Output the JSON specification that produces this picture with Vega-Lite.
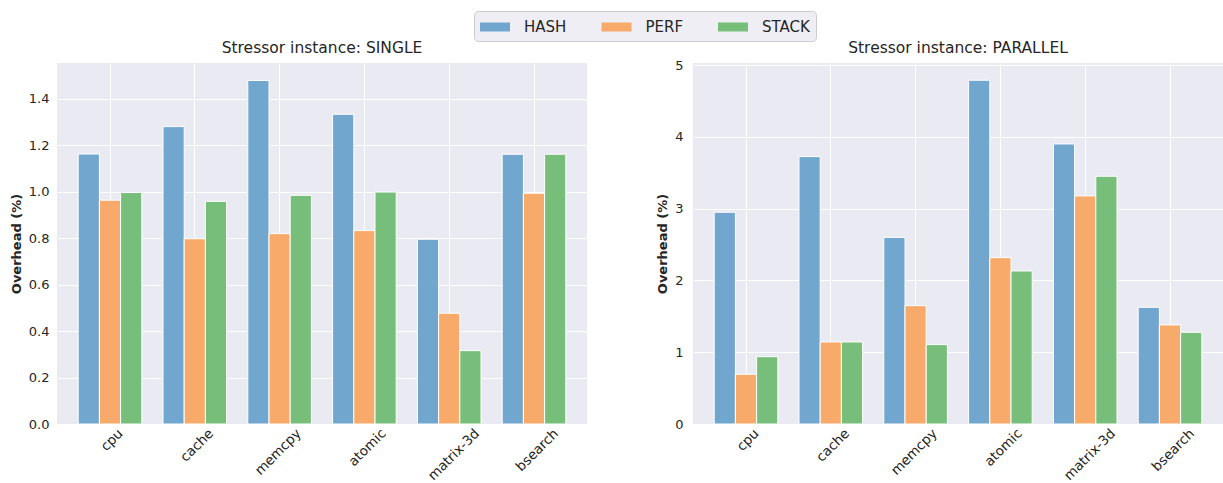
{
  "$schema": "https://vega.github.io/schema/vega-lite/v6.json",
  "background": "white",
  "padding": {"left": 10, "top": 10, "right": 0, "bottom": 0},
  "datasets": {
    "overhead": [
      {"mode": "SINGLE", "stressor": "cpu", "tool": "HASH", "overhead": 1.163},
      {"mode": "SINGLE", "stressor": "cpu", "tool": "PERF", "overhead": 0.964},
      {"mode": "SINGLE", "stressor": "cpu", "tool": "STACK", "overhead": 0.997},
      {"mode": "SINGLE", "stressor": "cache", "tool": "HASH", "overhead": 1.281},
      {"mode": "SINGLE", "stressor": "cache", "tool": "PERF", "overhead": 0.798},
      {"mode": "SINGLE", "stressor": "cache", "tool": "STACK", "overhead": 0.959},
      {"mode": "SINGLE", "stressor": "memcpy", "tool": "HASH", "overhead": 1.480},
      {"mode": "SINGLE", "stressor": "memcpy", "tool": "PERF", "overhead": 0.820},
      {"mode": "SINGLE", "stressor": "memcpy", "tool": "STACK", "overhead": 0.985},
      {"mode": "SINGLE", "stressor": "atomic", "tool": "HASH", "overhead": 1.334},
      {"mode": "SINGLE", "stressor": "atomic", "tool": "PERF", "overhead": 0.833},
      {"mode": "SINGLE", "stressor": "atomic", "tool": "STACK", "overhead": 0.999},
      {"mode": "SINGLE", "stressor": "matrix-3d", "tool": "HASH", "overhead": 0.796},
      {"mode": "SINGLE", "stressor": "matrix-3d", "tool": "PERF", "overhead": 0.477},
      {"mode": "SINGLE", "stressor": "matrix-3d", "tool": "STACK", "overhead": 0.316},
      {"mode": "SINGLE", "stressor": "bsearch", "tool": "HASH", "overhead": 1.162},
      {"mode": "SINGLE", "stressor": "bsearch", "tool": "PERF", "overhead": 0.994},
      {"mode": "SINGLE", "stressor": "bsearch", "tool": "STACK", "overhead": 1.162},
      {"mode": "PARALLEL", "stressor": "cpu", "tool": "HASH", "overhead": 2.95},
      {"mode": "PARALLEL", "stressor": "cpu", "tool": "PERF", "overhead": 0.692},
      {"mode": "PARALLEL", "stressor": "cpu", "tool": "STACK", "overhead": 0.938},
      {"mode": "PARALLEL", "stressor": "cache", "tool": "HASH", "overhead": 3.726},
      {"mode": "PARALLEL", "stressor": "cache", "tool": "PERF", "overhead": 1.143},
      {"mode": "PARALLEL", "stressor": "cache", "tool": "STACK", "overhead": 1.143},
      {"mode": "PARALLEL", "stressor": "memcpy", "tool": "HASH", "overhead": 2.60},
      {"mode": "PARALLEL", "stressor": "memcpy", "tool": "PERF", "overhead": 1.649},
      {"mode": "PARALLEL", "stressor": "memcpy", "tool": "STACK", "overhead": 1.106},
      {"mode": "PARALLEL", "stressor": "atomic", "tool": "HASH", "overhead": 4.79},
      {"mode": "PARALLEL", "stressor": "atomic", "tool": "PERF", "overhead": 2.318},
      {"mode": "PARALLEL", "stressor": "atomic", "tool": "STACK", "overhead": 2.132},
      {"mode": "PARALLEL", "stressor": "matrix-3d", "tool": "HASH", "overhead": 3.902},
      {"mode": "PARALLEL", "stressor": "matrix-3d", "tool": "PERF", "overhead": 3.178},
      {"mode": "PARALLEL", "stressor": "matrix-3d", "tool": "STACK", "overhead": 3.452},
      {"mode": "PARALLEL", "stressor": "bsearch", "tool": "HASH", "overhead": 1.626},
      {"mode": "PARALLEL", "stressor": "bsearch", "tool": "PERF", "overhead": 1.380},
      {"mode": "PARALLEL", "stressor": "bsearch", "tool": "STACK", "overhead": 1.278}
    ]
  },
  "data": {"name": "overhead"},
  "bounds": "flush",
  "spacing": 106,
  "hconcat": [
    {
      "width": 530,
      "height": 361,
      "title": {"text": "Stressor instance: SINGLE"},
      "transform": [{"filter": "datum.mode === 'SINGLE'"}],
      "mark": {"type": "bar", "stroke": "white", "strokeWidth": 1},
      "encoding": {
        "x": {
          "field": "stressor", "type": "nominal",
          "sort": ["cpu", "cache", "memcpy", "atomic", "matrix-3d", "bsearch"],
          "scale": {"paddingInner": 0.25, "paddingOuter": 0.25},
          "axis": {"title": null, "labelAngle": -45, "labelAlign": "right", "labelBaseline": "middle", "labelPadding": 7, "labelFontSize": 13.5, "bandPosition": 0.5, "labelOffset": {"expr": "length(datum.label) * 2.9 + 2"}}
        },
        "xOffset": {"field": "tool", "type": "nominal", "scale": {"paddingInner": 0, "paddingOuter": 0}},
        "y": {
          "field": "overhead", "type": "quantitative",
          "scale": {"domain": [0, 1.555], "nice": false, "zero": true},
          "axis": {"title": "Overhead (%)", "values": [0, 0.2, 0.4, 0.6, 0.8, 1.0, 1.2, 1.4], "format": ".1f"}
        },
        "color": {
          "field": "tool", "type": "nominal",
          "scale": {"domain": ["HASH", "PERF", "STACK"], "range": ["#71a6ce", "#f7aa69", "#78be7b"]},
          "legend": {"title": null}
        }
      }
    },
    {
      "width": 530,
      "height": 361,
      "title": {"text": "Stressor instance: PARALLEL", "offset": 3},
      "transform": [{"filter": "datum.mode === 'PARALLEL'"}],
      "mark": {"type": "bar", "stroke": "white", "strokeWidth": 1},
      "encoding": {
        "x": {
          "field": "stressor", "type": "nominal",
          "sort": ["cpu", "cache", "memcpy", "atomic", "matrix-3d", "bsearch"],
          "scale": {"paddingInner": 0.25, "paddingOuter": 0.25},
          "axis": {"title": null, "labelAngle": -45, "labelAlign": "right", "labelBaseline": "middle", "labelPadding": 7, "labelFontSize": 13.5, "bandPosition": 0.5, "labelOffset": {"expr": "length(datum.label) * 2.9 + 2"}}
        },
        "xOffset": {"field": "tool", "type": "nominal", "scale": {"paddingInner": 0, "paddingOuter": 0}},
        "y": {
          "field": "overhead", "type": "quantitative",
          "scale": {"domain": [0, 5.03], "nice": false, "zero": true},
          "axis": {"title": "Overhead (%)", "values": [0, 1, 2, 3, 4, 5], "format": "d", "labelPadding": 10}
        },
        "color": {
          "field": "tool", "type": "nominal",
          "scale": {"domain": ["HASH", "PERF", "STACK"], "range": ["#71a6ce", "#f7aa69", "#78be7b"]},
          "legend": {"title": null}
        }
      }
    }
  ],
  "resolve": {"scale": {"x": "independent", "y": "independent"}},
  "config": {
    "font": "DejaVu Sans",
    "view": {"fill": "#eaeaf2", "stroke": null},
    "title": {"font": "DejaVu Sans", "fontSize": 15.5, "fontWeight": "normal", "color": "#262626", "offset": 7, "anchor": "middle", "frame": "group"},
    "axis": {
      "domain": false,
      "ticks": false,
      "grid": true,
      "gridColor": "white",
      "gridWidth": 1,
      "labelFont": "DejaVu Sans",
      "labelFontSize": 13,
      "labelColor": "#262626",
      "labelPadding": 8,
      "titleFont": "DejaVu Sans",
      "titleFontSize": 13,
      "titleFontWeight": "bold",
      "titleColor": "#262626",
      "titlePadding": 5
    },
    "legend": {
      "orient": "none",
      "direction": "horizontal",
      "legendX": 417,
      "legendY": -52,
      "fillColor": "#eeeef4",
      "strokeColor": "#cccccc",
      "cornerRadius": 4,
      "padding": 6,
      "symbolType": "M-1,-0.45H2V0.45H-1Z",
      "symbolSize": 400,
      "symbolStrokeWidth": 0,
      "symbolOpacity": 1,
      "labelFont": "DejaVu Sans",
      "labelFontSize": 15,
      "labelColor": "#262626",
      "labelOffset": 24,
      "columnPadding": 34.5
    }
  }
}
